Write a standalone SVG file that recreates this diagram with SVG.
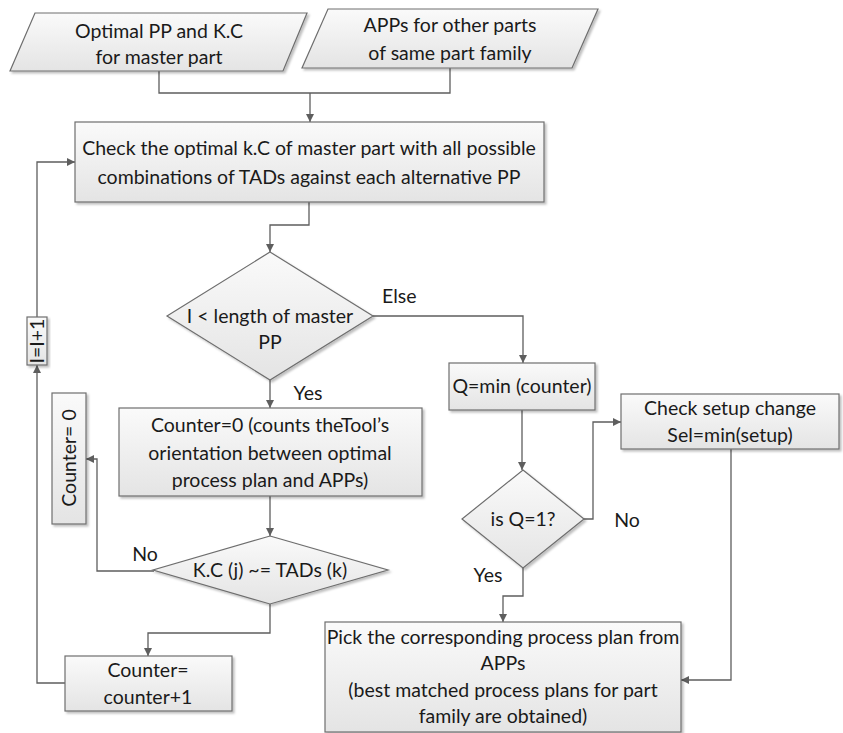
<svg xmlns="http://www.w3.org/2000/svg" width="843" height="733" viewBox="0 0 843 733">
  <style>
    .shape { stroke: #6e6e6e; stroke-width: 1.2; fill: url(#boxFill); filter: url(#shadow); }
    .wire { fill: none; stroke: #5e5e5e; stroke-width: 1.3; }
    .arrow { marker-end: url(#head); }
    text { font-family: "Lato", "Liberation Sans", sans-serif; font-size: 19.5px; fill: #1a1a1a; text-anchor: middle; }
    .lbl { text-anchor: start; }
  </style>
  <defs>
    <linearGradient id="boxFill" x1="0" y1="0" x2="0" y2="1">
      <stop offset="0" stop-color="#fafafa"/>
      <stop offset="1" stop-color="#e4e4e4"/>
    </linearGradient>
    <filter id="shadow" x="-10%" y="-10%" width="130%" height="140%">
      <feDropShadow dx="2" dy="2" stdDeviation="1.2" flood-color="#000" flood-opacity="0.25"/>
    </filter>
    <marker id="head" viewBox="0 0 10 10" refX="10" refY="5" markerWidth="8" markerHeight="8" markerUnits="userSpaceOnUse" orient="auto">
      <path d="M0,0 L10,5 L0,10 z" fill="#5e5e5e"/>
    </marker>
  </defs>

  <!-- connectors -->
  <g id="connectors">
    <path class="wire" d="M159,71 V93 H450 V68"/>
    <path class="wire arrow" d="M310,93 V122"/>
    <path class="wire arrow" d="M309,202 V225 H270 V252"/>
    <path class="wire arrow" d="M373,316 H523 V363"/>
    <path class="wire arrow" d="M522,410 V470"/>
    <path class="wire arrow" d="M584,519 H593 V422 H621"/>
    <path class="wire arrow" d="M731,449 V680 H681"/>
    <path class="wire arrow" d="M523,568 V596 H503 V622"/>
    <path class="wire arrow" d="M270,380 V408"/>
    <path class="wire arrow" d="M270,496 V536"/>
    <path class="wire arrow" d="M154,571 H97 V459 H86"/>
    <path class="wire arrow" d="M270,604 V633 H148 V656"/>
    <path class="wire arrow" d="M65,683 H37 V365"/>
    <path class="wire arrow" d="M37,317 V162 H75"/>
    <text class="lbl" x="382" y="303">Else</text>
    <text x="308" y="400">Yes</text>
    <text x="627" y="527">No</text>
    <text x="488" y="582">Yes</text>
    <text x="145" y="561">No</text>
  </g>

  <g id="input-master">
    <polygon class="shape" points="35,13 307,13 283,71 10,71"/>
    <text x="159" y="38">Optimal PP and K.C</text>
    <text x="159" y="64">for master part</text>
  </g>

  <g id="input-apps">
    <polygon class="shape" points="328,9 598,9 572,68 302,68"/>
    <text x="450" y="32">APPs for other parts</text>
    <text x="450" y="60">of same part family</text>
  </g>

  <g id="check-kc">
    <rect class="shape" x="75" y="122" width="469" height="80"/>
    <text x="309" y="155">Check the optimal k.C of master part with all possible</text>
    <text x="309" y="184">combinations of TADs against each alternative PP</text>
  </g>

  <g id="length-test">
    <polygon class="shape" points="270,252 373,316 270,380 167,316"/>
    <text x="270" y="323">I &lt; length of master</text>
    <text x="270" y="349">PP</text>
  </g>

  <g id="q-min">
    <rect class="shape" x="449" y="363" width="146" height="47"/>
    <text x="522" y="393">Q=min (counter)</text>
  </g>

  <g id="q-test">
    <polygon class="shape" points="523,470 584,519 523,568 462,519"/>
    <text x="523" y="526">is Q=1?</text>
  </g>

  <g id="setup-check">
    <rect class="shape" x="621" y="394" width="218" height="55"/>
    <text x="730" y="415">Check setup change</text>
    <text x="730" y="442">Sel=min(setup)</text>
  </g>

  <g id="pick-plan">
    <rect class="shape" x="325" y="622" width="356" height="110"/>
    <text x="503" y="644">Pick the corresponding process plan from</text>
    <text x="503" y="670">APPs</text>
    <text x="503" y="697">(best matched process plans for part</text>
    <text x="503" y="723">family are obtained)</text>
  </g>

  <g id="counter-reset">
    <rect class="shape" x="119" y="408" width="303" height="88"/>
    <text x="270" y="432">Counter=0 (counts theTool’s</text>
    <text x="270" y="460">orientation between optimal</text>
    <text x="270" y="487">process plan and APPs)</text>
  </g>

  <g id="kc-test">
    <polygon class="shape" points="270,536 388,570 270,604 153,570"/>
    <text x="270" y="577">K.C (j) ~= TADs (k)</text>
  </g>

  <g id="counter-zero">
    <rect class="shape" x="52" y="393" width="34" height="131"/>
    <text transform="rotate(-90 69 458)" x="69" y="465">Counter= 0</text>
  </g>

  <g id="counter-inc">
    <rect class="shape" x="65" y="656" width="167" height="55"/>
    <text x="148" y="677">Counter=</text>
    <text x="148" y="704">counter+1</text>
  </g>

  <g id="i-inc">
    <rect class="shape" x="27" y="317" width="20" height="48"/>
    <text transform="rotate(-90 37 341)" x="37" y="348">I=I+1</text>
  </g>
</svg>
